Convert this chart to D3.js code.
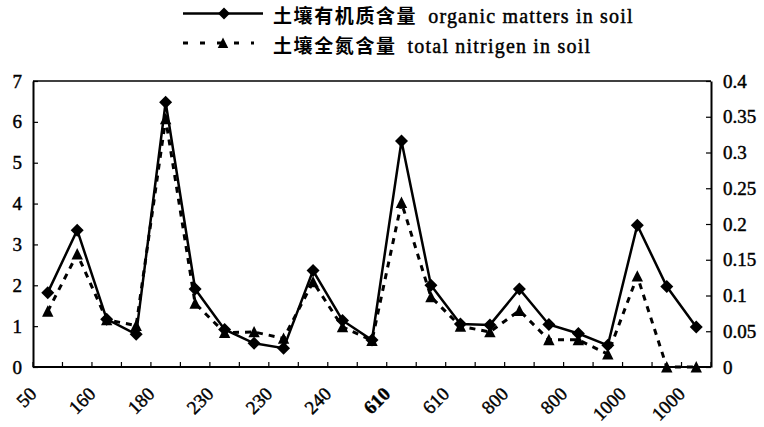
<!DOCTYPE html>
<html>
<head>
<meta charset="utf-8">
<script src="https://cdn.jsdelivr.net/npm/d3@7"></script>
<style>
  html, body { margin: 0; padding: 0; background: #fff; }
  svg { display: block; }
</style>
</head>
<body>
<svg id="chart" width="764" height="427"></svg>
<script>
// ---- data ----
const tickLabels = ["50", "160", "180", "230", "230", "240", "610", "610", "800", "800", "1000", "1000"];
const organicMatter = [1.82, 3.35, 1.17, 0.80, 6.48, 1.91, 0.92, 0.58, 0.46, 2.36, 1.14, 0.66, 5.53, 2.00, 1.05, 1.03, 1.91, 1.04, 0.82, 0.53, 3.47, 1.97, 0.98];
const totalNitrogen = [0.078, 0.158, 0.066, 0.058, 0.347, 0.089, 0.048, 0.049, 0.040, 0.119, 0.056, 0.037, 0.230, 0.098, 0.057, 0.049, 0.079, 0.038, 0.038, 0.018, 0.127, 0, 0];
const leftTicks = [0, 1, 2, 3, 4, 5, 6, 7];
const rightTicks = [0, 0.05, 0.1, 0.15, 0.2, 0.25, 0.3, 0.35, 0.4];
const seriesNames = ["土壤有机质含量 organic matters in soil", "土壤全氮含量 total nitrigen in soil"];

// ---- layout ----
const svg = d3.select("#chart");
const L = 33, R = 711, T = 81, B = 367;
const SERIF = '"Liberation Serif"';
const CJK = '"Noto Sans CJK SC"';
const serifText = sel => sel.style("font-family", SERIF).attr("fill", "#000")
  .attr("stroke", "#000").attr("stroke-width", 0.45);

const x = d3.scaleBand().domain(d3.range(organicMatter.length)).range([L, R]);
const cx = i => x(i) + x.bandwidth() / 2;
const yL = d3.scaleLinear().domain([0, 7]).range([B, T]);
const yR = d3.scaleLinear().domain([0, 0.4]).range([B, T]);

// frame top
svg.append("line").attr("x1", L).attr("x2", R).attr("y1", T).attr("y2", T)
  .attr("stroke", "#000").attr("stroke-width", 1.5);

// left axis
const gL = svg.append("g").attr("transform", `translate(${L},0)`)
  .call(d3.axisLeft(yL).tickValues(leftTicks).tickFormat(d3.format("d")).tickSize(-5).tickSizeOuter(0).tickPadding(11));
// right axis
const gR = svg.append("g").attr("transform", `translate(${R},0)`)
  .call(d3.axisRight(yR).tickValues(rightTicks).tickFormat(d => d === 0 ? "0" : String(+d.toFixed(2))).tickSize(-5).tickSizeOuter(0).tickPadding(12));
[gL, gR].forEach(g => {
  g.attr("font-family", null).attr("font-size", null);
  g.select(".domain").attr("stroke-width", 2);
  g.selectAll(".tick line").attr("stroke-width", 1.2);
  g.selectAll(".tick text").call(serifText).style("font-size", "19px");
});

// bottom axis line and category boundary ticks
svg.append("line").attr("x1", L).attr("x2", R).attr("y1", B).attr("y2", B)
  .attr("stroke", "#000").attr("stroke-width", 2);
const bounds = d3.range(organicMatter.length + 1).map(i => i < organicMatter.length ? x(i) : R);
svg.append("g").selectAll("line").data(bounds).join("line")
  .attr("x1", d => d).attr("x2", d => d).attr("y1", B).attr("y2", B - 5)
  .attr("stroke", "#000").attr("stroke-width", 1.2);

// x labels (every second category)
svg.append("g").selectAll("text").data(tickLabels).join("text")
  .attr("transform", (d, i) => `translate(${cx(i * 2) - 10},${B + 28}) rotate(-45)`)
  .attr("text-anchor", "end")
  .call(serifText)
  .style("font-size", "19px")
  .style("font-weight", (d, i) => i === 6 ? "bold" : "normal")
  .text(d => d);

// markers
const diamond = s => `M0,${-s}L${s},0L0,${s}L${-s},0Z`;
const triangle = s => `M0,${-s}L${s * 0.95},${s * 0.9}L${-s * 0.95},${s * 0.9}Z`;

// nitrogen dashed line
const lineN = d3.line().x((d, i) => cx(i)).y(d => yR(d));
svg.append("path").datum(totalNitrogen).attr("d", lineN)
  .attr("fill", "none").attr("stroke", "#000").attr("stroke-width", 3)
  .attr("stroke-dasharray", "6,6");
svg.append("g").selectAll("path").data(totalNitrogen).join("path")
  .attr("transform", (d, i) => `translate(${cx(i)},${yR(d)})`)
  .attr("d", triangle(6)).attr("fill", "#000");

// organic solid line
const lineO = d3.line().x((d, i) => cx(i)).y(d => yL(d));
svg.append("path").datum(organicMatter).attr("d", lineO)
  .attr("fill", "none").attr("stroke", "#000").attr("stroke-width", 2.5);
svg.append("g").selectAll("path").data(organicMatter).join("path")
  .attr("transform", (d, i) => `translate(${cx(i)},${yL(d)})`)
  .attr("d", diamond(6.5)).attr("fill", "#000");

// legend
const leg = svg.append("g");
leg.append("line").attr("x1", 183).attr("x2", 263).attr("y1", 13.5).attr("y2", 13.5)
  .attr("stroke", "#000").attr("stroke-width", 2.5);
leg.append("path").attr("transform", "translate(224,13.5)").attr("d", diamond(6)).attr("fill", "#000");
leg.append("line").attr("x1", 183).attr("x2", 254).attr("y1", 43).attr("y2", 43)
  .attr("stroke", "#000").attr("stroke-width", 3).attr("stroke-dasharray", "5,12");
leg.append("path").attr("transform", "translate(223,43)").attr("d", triangle(5.5)).attr("fill", "#000");

seriesNames.forEach((name, k) => {
  const sp = name.indexOf(" ");
  const t = leg.append("text").attr("x", 273).attr("y", k === 0 ? 23 : 53);
  t.append("tspan").style("font-family", CJK).style("font-size", "19px").style("letter-spacing", "1.6px")
    .style("font-weight", "bold").text(name.slice(0, sp));
  t.append("tspan").call(serifText).style("font-size", "20px").attr("dx", 11)
    .style("letter-spacing", "1.2px").text(name.slice(sp + 1));
});
</script>
</body>
</html>
